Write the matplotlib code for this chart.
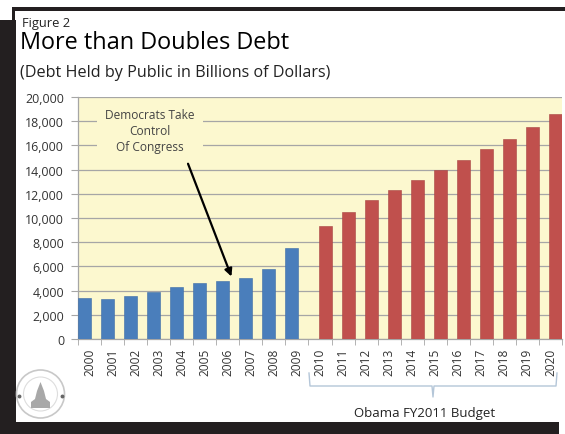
import matplotlib
matplotlib.use('Agg')
import matplotlib.pyplot as plt
from matplotlib.patches import Rectangle, Circle, Polygon

plt.rcParams['font.family'] = ['Open Sans', 'DejaVu Sans']

# debt held by the public, billions of dollars
hist_years = ['2000', '2001', '2002', '2003', '2004', '2005', '2006', '2007', '2008', '2009']
hist_debt = [3410, 3320, 3540, 3913, 4295, 4592, 4829, 5035, 5803, 7545]
budget_years = ['2010', '2011', '2012', '2013', '2014', '2015', '2016', '2017', '2018', '2019', '2020']
budget_debt = [9298, 10498, 11472, 12326, 13122, 13978, 14833, 15684, 16547, 17496, 18573]
yticks = list(range(0, 20001, 2000))

years = hist_years + budget_years
W, H = 565, 435
yellow = '#FCF8CF'
blue = '#4A7EBB'
red = '#C0504D'
txt = '#333333'

fig = plt.figure(figsize=(W / 100, H / 100), dpi=100, facecolor='white')

# frame / page decorations in pixel coordinates
deco = fig.add_axes([0, 0, 1, 1], zorder=0)
deco.set_xlim(0, W)
deco.set_ylim(H, 0)
deco.axis('off')
k = '#231F20'
deco.add_patch(Rectangle((12, 8), W - 12, 3.5, color=k, lw=0))
deco.add_patch(Rectangle((12, 8), 3, 20, color=k, lw=0))
deco.add_patch(Rectangle((0, 21), 15.5, H - 21, color=k, lw=0))
deco.add_patch(Rectangle((0, 422.5), 559, H - 422.5, color=k, lw=0))

deco.text(22, 27, 'Figure 2', fontsize=9.3, color='#222222', va='baseline')
deco.text(20, 49, 'More than Doubles Debt', fontsize=16.9, color='black', va='baseline')
deco.text(20, 77, '(Debt Held by Public in Billions of Dollars)', fontsize=11.6,
          color='#222222', va='baseline')

# bracket under the budget years
bc = '#B4C6D8'
deco.plot([309, 310, 432, 433, 434, 556, 557], [374, 387, 387, 398, 387, 387, 374],
          color=bc, lw=1)
deco.text(425, 417, 'Obama FY2011 Budget', fontsize=9.5, color='#222222',
          ha='center', va='baseline')

# committee seal
deco.add_patch(Circle((40.5, 395), 24, fc='none', ec='#C8C8C8', lw=1.2))
deco.add_patch(Circle((40.5, 395), 17, fc='none', ec='#DDDDDD', lw=0.8))
deco.add_patch(Polygon([(31, 409), (31, 403), (35, 400), (37, 392), (40.5, 383),
                        (44, 392), (46, 400), (50, 403), (50, 409)],
                       closed=True, fc='#A8A8A8', ec='none'))
deco.plot([19, 62], [397, 397], 'o', color='#666666', ms=1.8)

# main chart
ax = fig.add_axes([78 / W, 1 - 340 / H, (562 - 78) / W, (340 - 98) / H], zorder=1)
ax.set_facecolor(yellow)
w = 0.56
hx = [i - 0.5 + w / 2 for i in range(len(hist_years))]
bx = [len(hist_years) + i + 0.5 - w / 2 for i in range(len(budget_years))]
ax.bar(hx, hist_debt, width=w, color=blue, edgecolor='#3C6CA6', lw=0.4, zorder=3)
ax.bar(bx, budget_debt, width=w, color=red, edgecolor='#A84442', lw=0.4, zorder=3)

ax.set_xlim(-0.5, len(years) - 0.5)
ax.set_ylim(0, 20000)
ax.set_yticks(yticks)
ax.set_yticklabels(['{:,}'.format(v) for v in yticks], fontsize=8.9, color=txt)
ax.yaxis.grid(True, color='#A6A6A6', lw=0.9, zorder=1)
ax.set_xticks(range(len(years)))
ax.set_xticklabels(years, rotation=90, fontsize=8.6, color=txt)
ax.set_xticks([i - 0.5 for i in range(len(years) + 1)], minor=True)
ax.tick_params(axis='x', which='major', length=0, pad=6)
ax.tick_params(axis='x', which='minor', length=4, color='#A6A6A6')
ax.tick_params(axis='y', length=5, color='#A6A6A6', pad=5)
for s in ['top', 'right']:
    ax.spines[s].set_visible(False)
for s in ['left', 'bottom']:
    ax.spines[s].set_color('#A6A6A6')
    ax.spines[s].set_linewidth(0.9)

ax.text(2.62, 17250, 'Democrats Take\nControl\nOf Congress', fontsize=8.6, color='#444444',
        ha='center', va='center', linespacing=1.3, zorder=4,
        bbox=dict(fc=yellow, ec='none', pad=6))
ax.annotate('', xy=(6.2, 4950), xytext=(4.23, 14700), zorder=5,
            arrowprops=dict(arrowstyle='-|>', color='black', lw=1.6, mutation_scale=11))

fig.savefig('out.png', dpi=100, facecolor='white')
